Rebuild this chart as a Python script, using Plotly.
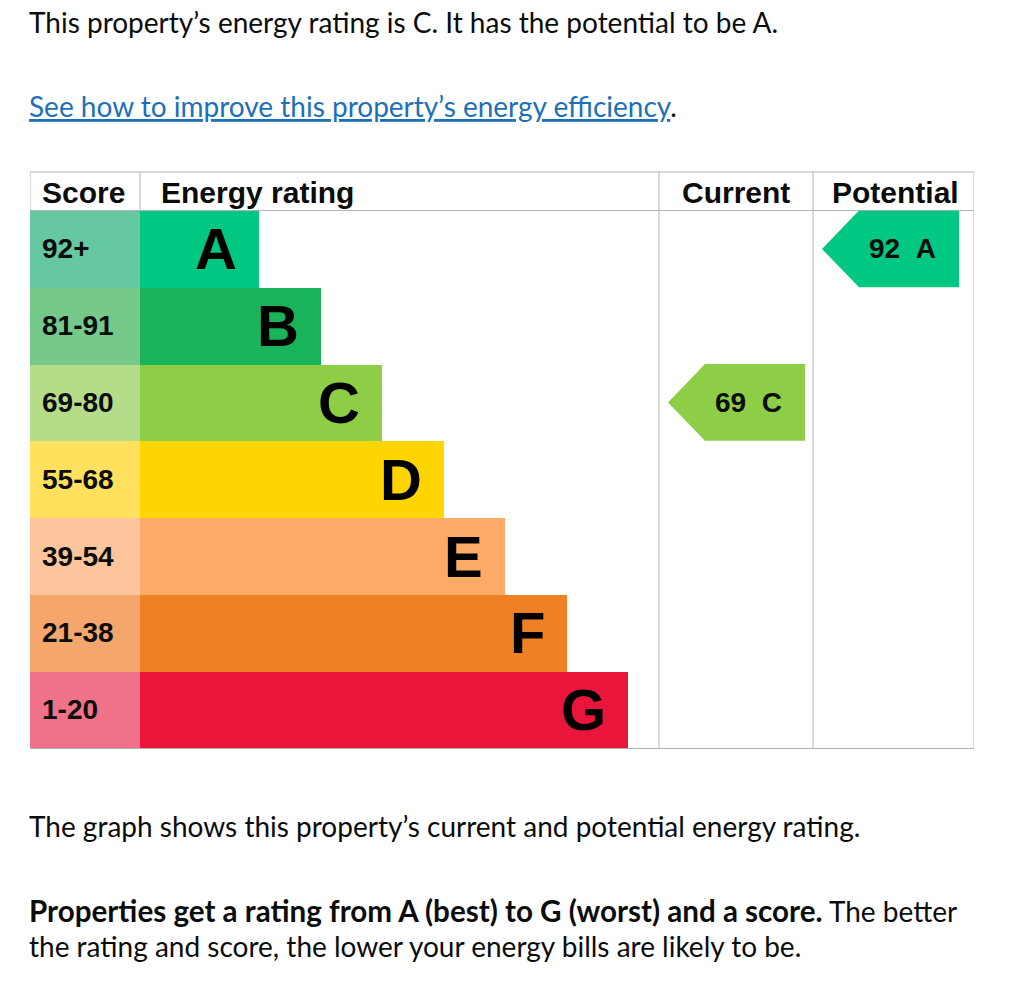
import plotly.graph_objects as go

# ---------------- data ----------------
bands = ["A", "B", "C", "D", "E", "F", "G"]
score_ranges = ["92+", "81-91", "69-80", "55-68", "39-54", "21-38", "1-20"]
band_min_scores = [92, 81, 69, 55, 39, 21, 1]
band_colors = ["#00c781", "#19b459", "#8dce46", "#ffd500", "#fcaa65", "#ef8023", "#e9153b"]
score_cell_colors = ["#66c8a0", "#75c98b", "#b5dd89", "#ffe15d", "#fdc59c", "#f4a66c", "#ef7288"]
current_score = 69
potential_score = 92
column_headers = ["Score", "Energy rating", "Current", "Potential"]

intro_text = "This property\u2019s energy rating is C. It has the potential to be A."
link_text = "See how to improve this property\u2019s energy efficiency"
graph_text = "The graph shows this property\u2019s current and potential energy rating."
bold_text = "Properties get a rating from A (best) to G (worst) and a score."
rest_text_1 = " The better"
rest_text_2 = "the rating and score, the lower your energy bills are likely to be."

# ---------------- layout constants (pixels) ----------------
W, H = 1024, 990
TL, TR = 30, 974          # table left / right
TT, HB, TB = 172, 210.5, 748  # table top, header bottom, table bottom
SCORE_W = 110
BAR_MIN, BAR_STEP = 119, 61.5
CUR_L, POT_L = 629, 783
ARROW_TIP, ARROW_BODY, ARROW_RIGHT = 9, 46, 146
GRID = "#b1b4b6"
INK = "#0b0c0c"
CHART_FONT = "Liberation Sans, Arial, sans-serif"
BODY_FONT = "Lato, Noto Sans, sans-serif"
BODY_SIZE = 28


def py(px):
    return (H - px) / H


def band_index(score):
    for i, m in enumerate(band_min_scores):
        if score >= m:
            return i
    return len(bands) - 1


n = len(bands)
idx = list(range(n))
bar_lengths = [BAR_MIN + BAR_STEP * i for i in idx]

fig = go.Figure()

fig.add_trace(go.Bar(orientation="h", y=idx, x=[SCORE_W] * n, base=0, width=1,
                     marker=dict(color=score_cell_colors, line=dict(width=0)),
                     hoverinfo="skip", showlegend=False))
fig.add_trace(go.Bar(orientation="h", y=idx, x=bar_lengths, base=SCORE_W, width=1,
                     marker=dict(color=band_colors, line=dict(width=0)),
                     hoverinfo="skip", showlegend=False))

annotations = []
for i in idx:
    annotations.append(dict(x=10, y=i, xref="x", yref="y", xanchor="left", yanchor="middle",
                            text="<b>%s</b>" % score_ranges[i], showarrow=False,
                            font=dict(family=CHART_FONT, size=28, color=INK)))
    annotations.append(dict(x=SCORE_W + bar_lengths[i] - 20, y=i, xref="x", yref="y",
                            xanchor="right", yanchor="middle",
                            text="<b>%s</b>" % bands[i], showarrow=False,
                            font=dict(family=CHART_FONT, size=58, color="#000000")))

for score, col_left in [(current_score, CUR_L), (potential_score, POT_L)]:
    b = band_index(score)
    tip, body, right = col_left + ARROW_TIP, col_left + ARROW_BODY, col_left + ARROW_RIGHT
    fig.add_trace(go.Scatter(x=[tip, body, right, right, body, tip],
                             y=[b, b - 0.5, b - 0.5, b + 0.5, b + 0.5, b],
                             mode="lines", fill="toself", fillcolor=band_colors[b],
                             line=dict(width=0, color=band_colors[b]),
                             hoverinfo="skip", showlegend=False))
    annotations.append(dict(x=right - 57, y=b, xref="x", yref="y", xanchor="center",
                            yanchor="middle", showarrow=False,
                            text="<b>%d\u00a0\u00a0%s</b>" % (score, bands[b]),
                            font=dict(family=CHART_FONT, size=28, color=INK)))

# header
hy = py((TT + HB) / 2 + 1)
header_x = [10, 129, CUR_L + 77, POT_L + 82]
header_anchor = ["left", "left", "center", "center"]
for t, x, a in zip(column_headers, header_x, header_anchor):
    annotations.append(dict(x=x, y=hy, xref="x", yref="paper", xanchor=a, yanchor="middle",
                            text="<b>%s</b>" % t, showarrow=False,
                            font=dict(family=CHART_FONT, size=30, color=INK)))

# body text
def body(y, text):
    return dict(x=(TL - 3) / W, y=py(y), xref="paper", yref="paper", xanchor="left",
                yanchor="middle", showarrow=False, text=text,
                font=dict(family=BODY_FONT, size=BODY_SIZE, color=INK))


annotations.append(body(22, intro_text))
annotations.append(body(106, "<span style='text-decoration:underline;color:#1d70b8'>%s</span>." % link_text))
annotations.append(body(826, graph_text))
annotations.append(body(910, "<span style='font-size:29.6px'><b>%s</b></span>%s" % (bold_text, rest_text_1)))
annotations.append(body(946, rest_text_2))

# grid shapes
line = dict(color=GRID, width=1)
shapes = [
    dict(type="line", xref="x", yref="paper", x0=0, x1=944, y0=py(TT), y1=py(TT), line=line, layer="below"),
    dict(type="line", xref="x", yref="paper", x0=0, x1=944, y0=py(HB), y1=py(HB), line=line, layer="below"),
    dict(type="line", xref="x", yref="paper", x0=0, x1=944, y0=py(TB + 0.5), y1=py(TB + 0.5), line=line, layer="below"),
    dict(type="line", xref="x", yref="paper", x0=0, x1=0, y0=py(TT), y1=py(TB + 0.5), line=line, layer="below"),
    dict(type="line", xref="x", yref="paper", x0=944, x1=944, y0=py(TT), y1=py(TB + 0.5), line=line, layer="below"),
    dict(type="line", xref="x", yref="paper", x0=SCORE_W, x1=SCORE_W, y0=py(TT), y1=py(HB), line=line, layer="below"),
    dict(type="line", xref="x", yref="paper", x0=CUR_L, x1=CUR_L, y0=py(TT), y1=py(TB + 0.5), line=line, layer="below"),
    dict(type="line", xref="x", yref="paper", x0=POT_L, x1=POT_L, y0=py(TT), y1=py(TB + 0.5), line=line, layer="below"),
]

fig.update_layout(
    width=W, height=H, margin=dict(l=0, r=0, t=0, b=0),
    paper_bgcolor="white", plot_bgcolor="rgba(0,0,0,0)",
    xaxis=dict(domain=[TL / W, TR / W], range=[0, 944], visible=False, fixedrange=True),
    yaxis=dict(domain=[py(TB), py(HB)], range=[n - 0.5, -0.5], visible=False, fixedrange=True),
    barmode="overlay", bargap=0, annotations=annotations, shapes=shapes, showlegend=False,
)

fig.write_html("out.html", config={"displayModeBar": False})
